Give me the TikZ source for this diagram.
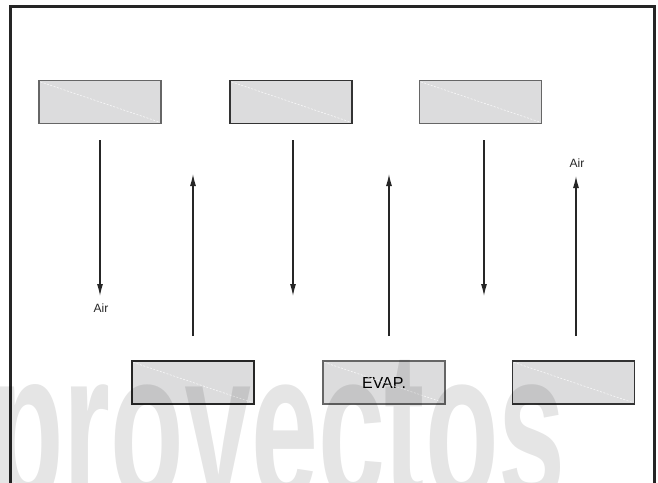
\documentclass[tikz,border=0pt]{standalone}
\usepackage{fontspec}
\setmainfont{Liberation Sans}
\usetikzlibrary{arrows.meta}
\definecolor{boxfill}{HTML}{DCDCDD}
\definecolor{framec}{HTML}{252525}
\tikzset{
  unit box/.style={draw=#1, fill=boxfill, line width=1.3pt, rectangle,
    minimum width=122pt, minimum height=43pt, inner sep=0pt},
  flow/.style={draw=black!85, line width=1.2pt,
    -{Latex[length=12pt,width=6pt]}},
  lbl/.style={font=\fontsize{12}{12}\selectfont, inner sep=0pt, text=black!85},
  diag/.style={draw=white, line width=0.6pt, dash pattern=on 2pt off 1.5pt, opacity=0.8}
}
\begin{document}
\begin{tikzpicture}[x=1pt,y=-1pt]
\useasboundingbox (0,0) rectangle (658,482);
\begin{scope}
\clip (0,0) rectangle (658,482);
% frame (open at the bottom)
\draw[framec, line width=3pt] (10.5,500) -- (10.5,6) -- (654.5,6) -- (654.5,500);

% top row
\node[unit box=black!60] (b1) at (100,102) {};
\node[unit box=black!80] (b2) at (291,102) {};
\node[unit box=black!60] (b3) at (480.5,102) {};
% bottom row
\node[unit box=black!85] (b4) at (193,382.5) {};
\node[unit box=black!60, font=\fontsize{16}{16}\selectfont] (b5) at (384,382.5) {EVAP.};
\node[unit box=black!80] (b6) at (573.5,382.5) {};

\foreach \b in {b1,b2,b3,b4,b5,b6}{
  \draw[diag] ([shift={(2,2)}]\b.north west) -- ([shift={(-2,-2)}]\b.south east);
}

% arrow end points
\coordinate (d1s) at (100,140);  \coordinate (d1e) at (100,296);
\coordinate (u1s) at (193,336);  \coordinate (u1e) at (193,174);
\coordinate (d2s) at (293,140);  \coordinate (d2e) at (293,296);
\coordinate (u2s) at (389,336);  \coordinate (u2e) at (389,174);
\coordinate (d3s) at (484,140);  \coordinate (d3e) at (484,296);
\coordinate (u3s) at (576,336); \coordinate (u3e) at (576,176);

\draw[flow] (d1s) -- (d1e);
\draw[flow] (u1s) -- (u1e);
\draw[flow] (d2s) -- (d2e);
\draw[flow] (u2s) -- (u2e);
\draw[flow] (d3s) -- (d3e);
\draw[flow] (u3s) -- (u3e);

\node[lbl] (air1) at (101,308) {Air};
\node[lbl] (air2) at (577,163) {Air};

% watermark
\node[anchor=base west, inner sep=0pt, text=black, opacity=0.1] (wm) at (-10,500)
  {\scalebox{0.56}[1]{\fontsize{215}{215}\selectfont\bfseries proyectos}};
\end{scope}
\end{tikzpicture}
\end{document}
